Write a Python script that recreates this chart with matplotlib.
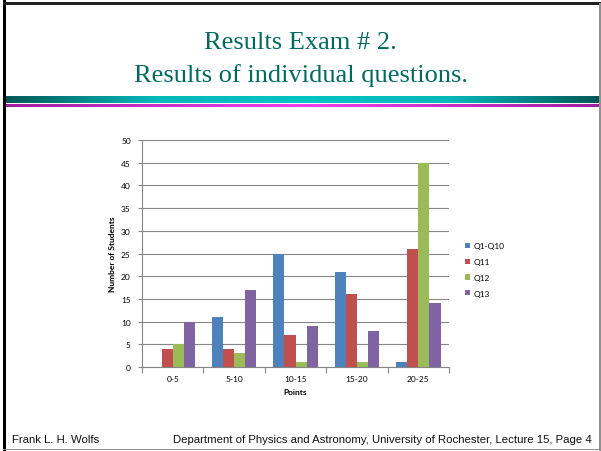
import numpy as np
import matplotlib
matplotlib.use("Agg")
import matplotlib.pyplot as plt
from matplotlib.patches import Rectangle
from matplotlib.colors import LinearSegmentedColormap

categories = ["0-5", "5-10", "10-15", "15-20", "20-25"]
series_names = ["Q1-Q10", "Q11", "Q12", "Q13"]
q1_q10 = [0, 11, 25, 21, 1]
q11 = [4, 4, 7, 16, 26]
q12 = [5, 3, 1, 1, 45]
q13 = [10, 17, 9, 8, 14]
yticks = [0, 5, 10, 15, 20, 25, 30, 35, 40, 45, 50]
colors = ["#4F81BD", "#C0504D", "#9BBB59", "#8064A2"]

W, H = 601, 452
fig = plt.figure(figsize=(W / 100, H / 100), dpi=100)
fig.patch.set_facecolor("white")

def fx(px):
    return px / W

def fy(py):
    return 1 - py / H

# slide borders
fig.add_artist(Rectangle((fx(3), fy(452)), fx(2.5), 1, transform=fig.transFigure, color="black", lw=0))
fig.add_artist(Rectangle((fx(3), fy(5.5)), fx(598), 2.5 / H, transform=fig.transFigure, color="#202020", lw=0))
fig.add_artist(Rectangle((fx(599), fy(452)), fx(1.5), fy(4) - fy(452), transform=fig.transFigure, color="#909090", lw=0))
fig.add_artist(Rectangle((fx(3), fy(451)), fx(598), 1.5 / H, transform=fig.transFigure, color="#909090", lw=0))

# gradient bands
teal = LinearSegmentedColormap.from_list("t", ["#005858", "#00b8b8", "#00c4c4", "#00b8b8", "#005858"])
mag = LinearSegmentedColormap.from_list("m", ["#a020a0", "#f040f0", "#a020a0"])
grad = np.linspace(0, 1, 256)[None, :]
axb = fig.add_axes([fx(5), fy(104), fx(595), 7 / H])
axb.imshow(grad, aspect="auto", cmap=teal)
axb.axis("off")
axm = fig.add_axes([fx(5), fy(108.5), fx(595), 3.5 / H])
axm.imshow(grad, aspect="auto", cmap=mag)
axm.axis("off")

# title
fig.text(0.5, fy(43), "Results Exam # 2.", ha="center", va="center",
         family="Liberation Serif", fontsize=19, color="#006A60")
fig.text(0.5, fy(76), "Results of individual questions.", ha="center", va="center",
         family="Liberation Serif", fontsize=19, color="#006A60")

# footer
fig.text(fx(12), fy(440), "Frank L. H. Wolfs", ha="left", va="center",
         family="Liberation Sans", fontsize=8.2, color="#111111")
fig.text(fx(592), fy(440), "Department of Physics and Astronomy, University of Rochester, Lecture 15, Page 4",
         ha="right", va="center", family="Liberation Sans", fontsize=8.2, color="#111111")

# chart
ax = fig.add_axes([fx(142), fy(368), fx(449) - fx(142), fy(141) - fy(368)])
x = np.arange(len(categories))
bw = 1 / 5.5
data = [q1_q10, q11, q12, q13]
for i, (vals, c, name) in enumerate(zip(data, colors, series_names)):
    ax.bar(x + (i - 1.5) * bw, vals, width=bw, color=c, label=name, zorder=3)

fnt = "Lato"
ax.set_xlim(-0.5, len(categories) - 0.5)
ax.set_ylim(0, 50)
ax.set_yticks(yticks)
ax.set_yticklabels([str(t) for t in yticks], family=fnt, fontsize=6)
ax.set_xticks(x)
ax.set_xticklabels(categories, family=fnt, fontsize=6)
ax.set_xticks(np.arange(-0.5, len(categories)), minor=True)
ax.tick_params(axis="x", which="major", length=0, pad=6)
ax.tick_params(axis="x", which="minor", length=4, color="#868686", width=0.8)
ax.tick_params(axis="y", length=3, color="#868686", width=0.8, pad=5)
ax.grid(axis="y", color="#868686", lw=0.8, zorder=0)
for s in ["top", "right"]:
    ax.spines[s].set_visible(False)
for s in ["left", "bottom"]:
    ax.spines[s].set_color("#868686")
    ax.spines[s].set_linewidth(0.8)
ax.set_xlabel("Points", family=fnt, fontsize=6, fontweight="bold", labelpad=4)
ax.set_ylabel("Number of Students", family=fnt, fontsize=6, fontweight="bold", labelpad=4)

leg = fig.legend(loc="upper left", bbox_to_anchor=(fx(462), fy(240)), frameon=False,
                 prop={"family": fnt, "size": 6}, handlelength=0.6, handleheight=0.6,
                 handletextpad=0.35, labelspacing=1.05, borderaxespad=0)

fig.savefig("out.png", dpi=100)
